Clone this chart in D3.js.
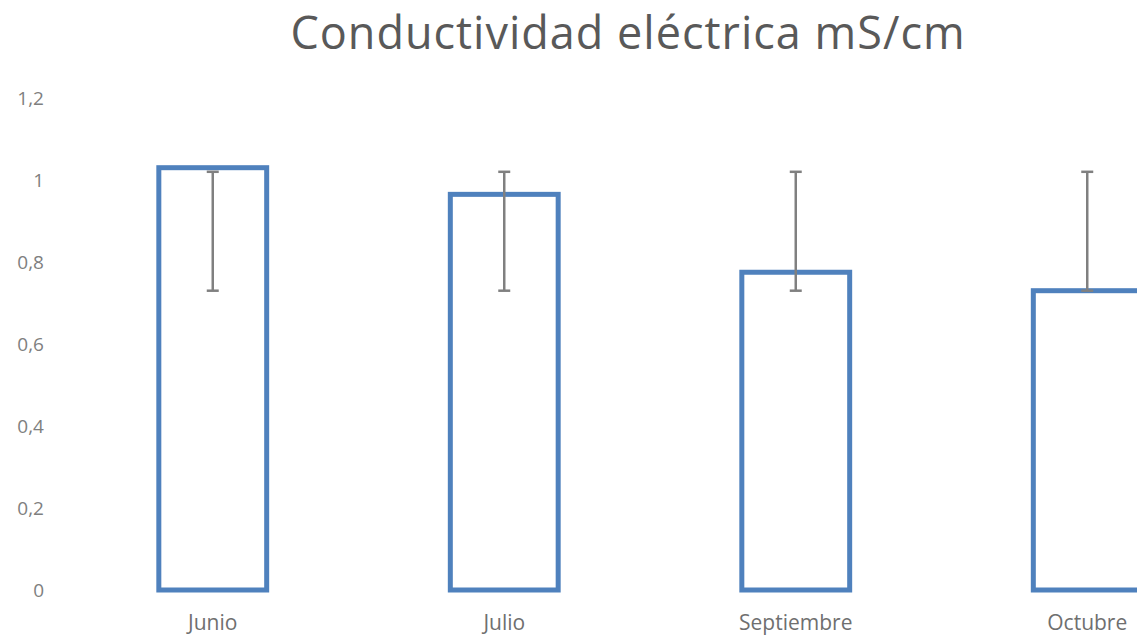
<!DOCTYPE html>
<html><head><meta charset="utf-8">
<script src="https://cdn.jsdelivr.net/npm/d3@7"></script>
<style>body{margin:0;background:#fff;overflow:hidden}</style>
</head><body>
<svg id="c" width="1137" height="635"></svg>
<script>
const categories = ["Junio", "Julio", "Septiembre", "Octubre"];
const values = [1.03, 0.965, 0.775, 0.73];
const errLow = [0.73, 0.73, 0.73, 0.73];
const errHigh = [1.02, 1.02, 1.02, 1.02];
const yTicks = [0, 0.2, 0.4, 0.6, 0.8, 1, 1.2];
const title = "Conductividad eléctrica mS/cm";

const svg = d3.select("#c");
const y = d3.scaleLinear().domain([0, 1.2]).range([590, 98]);
const x = d3.scaleBand().domain(categories).range([67, 1233]).paddingInner(0.63).paddingOuter(0.315);

svg.append("text").attr("x", 628).attr("y", 49).attr("text-anchor", "middle")
  .attr("font-family", "Open Sans").attr("font-size", 45).attr("letter-spacing", 1)
  .attr("fill", "#595959").text(title);

const fmt = v => String(v).replace(".", ",");
const yAxis = d3.axisLeft(y).tickValues(yTicks).tickFormat(fmt).tickSize(0).tickPadding(0);
const gy = svg.append("g").attr("transform", "translate(44,0)").call(yAxis);
gy.select(".domain").remove();
gy.selectAll("text").attr("font-family", "Open Sans").attr("font-size", 19).attr("fill", "#7f7f7f").attr("dy", "0.36em");

const xAxis = d3.axisBottom(x).tickSize(0).tickPadding(0);
const gx = svg.append("g").attr("transform", "translate(0,612)").call(xAxis);
gx.select(".domain").remove();
gx.selectAll("text").attr("font-family", "Open Sans").attr("font-size", 21).attr("fill", "#6f6f6f").attr("y", 18).attr("dy", 0);

svg.append("g").selectAll("rect").data(categories).join("rect")
  .attr("x", d => x(d)).attr("width", x.bandwidth())
  .attr("y", (d, i) => y(values[i])).attr("height", (d, i) => y(0) - y(values[i]))
  .attr("fill", "none").attr("stroke", "#4f81bd").attr("stroke-width", 5);

const eg = svg.append("g").attr("stroke", "#808080").attr("stroke-width", 2.5);
categories.forEach((c, i) => {
  const cx = x(c) + x.bandwidth() / 2;
  eg.append("line").attr("x1", cx).attr("x2", cx).attr("y1", y(errLow[i])).attr("y2", y(errHigh[i]));
  eg.append("line").attr("x1", cx - 6).attr("x2", cx + 6).attr("y1", y(errLow[i])).attr("y2", y(errLow[i]));
  eg.append("line").attr("x1", cx - 6).attr("x2", cx + 6).attr("y1", y(errHigh[i])).attr("y2", y(errHigh[i]));
});
</script>
</body></html>
